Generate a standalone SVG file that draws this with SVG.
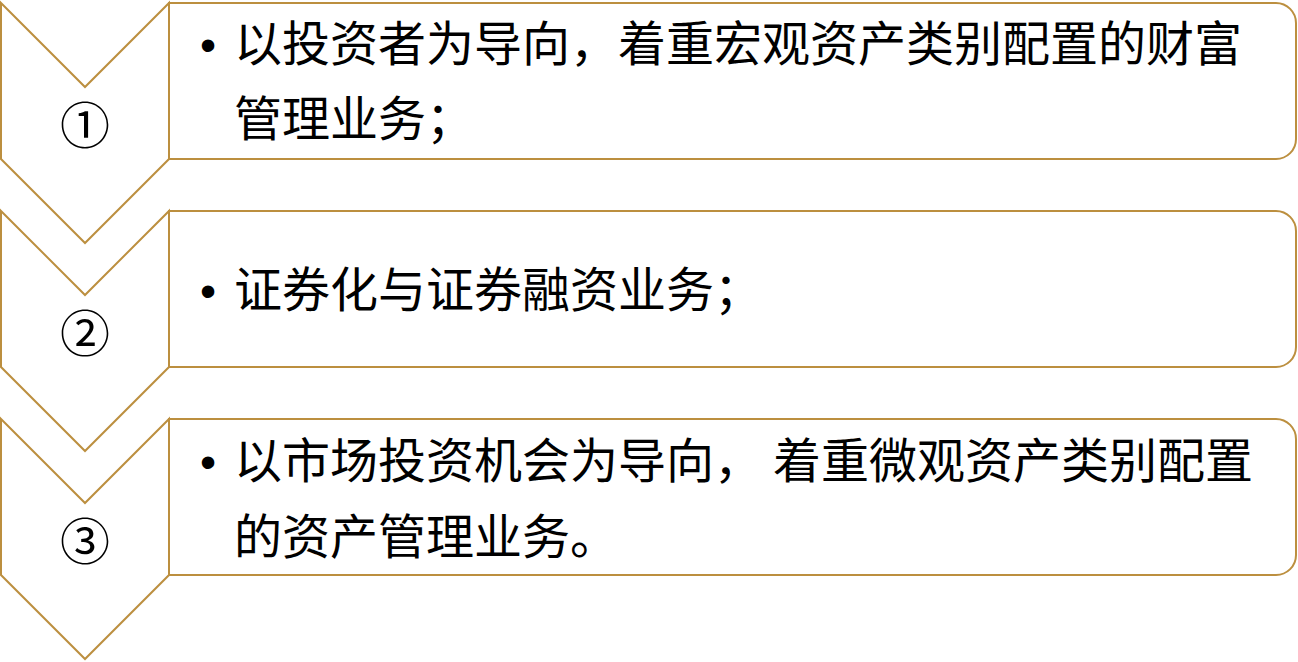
<svg xmlns="http://www.w3.org/2000/svg" width="1298" height="662" viewBox="0 0 1298 662">
<style>
.shape{fill:#FFFFFF;stroke:#BC8F3F;stroke-width:2;stroke-linejoin:miter}
.txt{font-family:"Noto Sans CJK SC","Microsoft YaHei",sans-serif;font-size:48px;fill:#000000}
.num{font-family:"Noto Sans CJK SC",sans-serif;font-size:50px;fill:#000000;text-anchor:middle}
.bul{font-family:"Liberation Sans",Arial,sans-serif;font-size:46px;fill:#000000;text-anchor:middle}
</style>
<rect width="1298" height="662" fill="#FFFFFF"/>
<g id="chevron1">
<polygon class="shape" points="1,3 85,87 169,3 169,159 85,243 1,159"/>
<text class="num" x="85" y="144">①</text>
</g>
<g id="chevron2">
<polygon class="shape" points="1,211 85,295 169,211 169,367 85,451 1,367"/>
<text class="num" x="85" y="352">②</text>
</g>
<g id="chevron3">
<polygon class="shape" points="1,419 85,503 169,419 169,575 85,659 1,575"/>
<text class="num" x="85" y="560">③</text>
</g>
<g id="box1">
<path class="shape" d="M169,3 H1276 A20,20 0 0 1 1296,23 V139 A20,20 0 0 1 1276,159 H169 Z"/>
<text class="bul" x="208" y="61">•</text>
<text class="txt" x="234" y="61">以投资者为导向，着重宏观资产类别配置的财富</text>
<text class="txt" x="234" y="136">管理业务；</text>
</g>
<g id="box2">
<path class="shape" d="M169,211 H1276 A20,20 0 0 1 1296,231 V347 A20,20 0 0 1 1276,367 H169 Z"/>
<text class="bul" x="208" y="307">•</text>
<text class="txt" x="234" y="307">证券化与证券融资业务；</text>
</g>
<g id="box3">
<path class="shape" d="M169,419 H1276 A20,20 0 0 1 1296,439 V555 A20,20 0 0 1 1276,575 H169 Z"/>
<text class="bul" x="208" y="478">•</text>
<text class="txt" x="234" y="478">以市场投资机会为导向，<tspan x="773">着重微观资产类别配置</tspan></text>
<text class="txt" x="234" y="554">的资产管理业务。</text>
</g>
<g id="connectors"></g>
</svg>
